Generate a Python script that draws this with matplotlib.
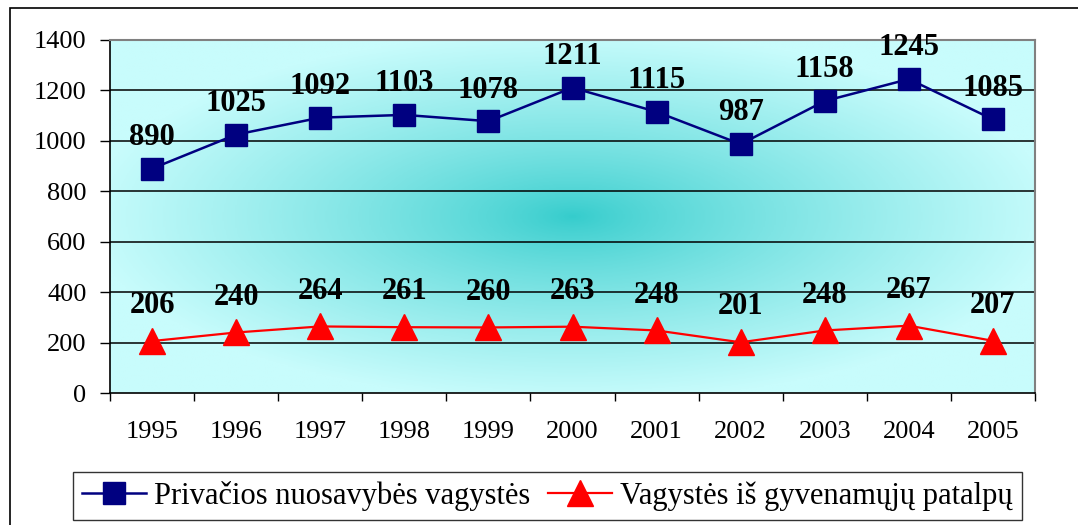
import numpy as np
import matplotlib
matplotlib.use("Agg")
import matplotlib.pyplot as plt
from matplotlib.patches import Rectangle
from matplotlib.colors import LinearSegmentedColormap

years = ["1995", "1996", "1997", "1998", "1999", "2000", "2001", "2002", "2003", "2004", "2005"]
private_theft = [890, 1025, 1092, 1103, 1078, 1211, 1115, 987, 1158, 1245, 1085]
home_theft = [206, 240, 264, 261, 260, 263, 248, 201, 248, 267, 207]
series_names = ["Privačios nuosavybės vagystės", "Vagystės iš gyvenamųjų patalpų"]
y_ticks = [0, 200, 400, 600, 800, 1000, 1200, 1400]

plt.rcParams['font.family'] = ['Liberation Serif', 'DejaVu Serif']

W, H = 1078, 525
fig = plt.figure(figsize=(W / 100, H / 100), dpi=100)
ax = fig.add_axes([110 / W, 1 - 393 / H, (1035 - 110) / W, (393 - 40) / H])

x = np.arange(len(years))
ax.set_xlim(-0.5, len(years) - 0.5)
ax.set_ylim(0, 1400)

# radial gradient background
ny, nx = 300, 600
gx = np.linspace(-1, 1, nx)
gy = np.linspace(-1, 1, ny)
GX, GY = np.meshgrid(gx, gy)
d = np.sqrt(GX ** 2 + GY ** 2)
d = np.clip(d / 1.05, 0, 1) ** 0.8
cmap = LinearSegmentedColormap.from_list("g", ["#34CCCC", "#C8FCFC"])
ax.imshow(d, cmap=cmap, extent=(-0.5, len(years) - 0.5, 0, 1400), aspect='auto',
          zorder=0, interpolation='bilinear', vmin=0, vmax=1)

for yv in y_ticks[1:-1]:
    ax.axhline(yv, color='black', lw=1.1, zorder=1)

ax.plot(x, private_theft, color='#000080', lw=1.8, marker='s', markersize=16,
        markerfacecolor='#000080', markeredgecolor='#000080', zorder=3, label=series_names[0])
ax.plot(x, home_theft, color='#FF0000', lw=1.6, marker='^', markersize=19,
        markerfacecolor='#FF0000', markeredgecolor='#FF0000', zorder=3, label=series_names[1])

for xi, v in zip(x, private_theft):
    ax.annotate(str(v), (xi, v), xytext=(0, 12), textcoords='offset points',
                ha='center', va='bottom', fontsize=22, fontweight='bold', zorder=4)
for xi, v in zip(x, home_theft):
    ax.annotate(str(v), (xi, v), xytext=(0, 15), textcoords='offset points',
                ha='center', va='bottom', fontsize=22, fontweight='bold', zorder=4)

ax.set_yticks(y_ticks)
ax.set_yticklabels([str(t) for t in y_ticks], fontsize=19)
ax.set_xticks(x)
ax.set_xticklabels(years, fontsize=19)
ax.set_xticks(np.arange(-0.5, len(years)), minor=True)
ax.tick_params(axis='x', which='major', length=0, pad=20)
ax.tick_params(axis='x', which='minor', length=6, width=1, color='black')
ax.tick_params(axis='y', length=7, width=1, pad=10, color='black')

for s in ['top', 'right']:
    ax.spines[s].set_color('#808080')
    ax.spines[s].set_linewidth(1.5)
for s in ['left', 'bottom']:
    ax.spines[s].set_color('black')
    ax.spines[s].set_linewidth(1.2)

leg = fig.legend(loc='lower left', ncol=2, mode='expand',
                 bbox_to_anchor=(73 / W, 1 - 520 / H, (1022 - 73) / W, 47 / H),
                 fontsize=22, frameon=True, fancybox=False, handlelength=2.1,
                 borderpad=0.3, handletextpad=0.25, columnspacing=0.5,
                 borderaxespad=0)
leg.get_frame().set_edgecolor('black')
leg.get_frame().set_linewidth(1.0)

fig.patches.append(Rectangle((10 / W, -0.1), 1.2, 1.1 - 8 / H, transform=fig.transFigure,
                             fill=False, edgecolor='black', lw=1.2))

fig.savefig("out.png", dpi=100)
